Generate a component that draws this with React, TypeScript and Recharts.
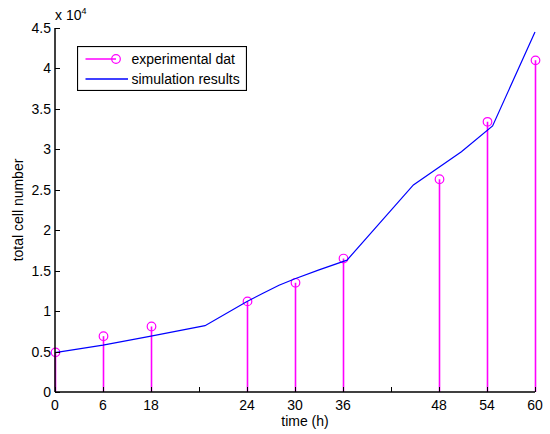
import React from 'react';
import { ComposedChart, Line, Bar, XAxis, YAxis, Legend } from 'recharts';

const FONT = '"Liberation Sans", Arial, Helvetica, sans-serif';
const FS = 14;
const MAGENTA = '#ff00ff';
const BLUE = '#0000ff';

// Measured cell counts (positions on the time axis)
const EXP_TIME = [0, 6, 12, 24, 30, 36, 48, 54, 60];
const EXP_CELLS = [4900, 6900, 8100, 11200, 13500, 16500, 26300, 33400, 41000];

// Simulated growth curve
const SIM_TIME = [0, 6, 12, 18.75, 24, 26, 28, 30, 33, 36.5, 44.8, 50.8, 54.7, 60];
const SIM_CELLS = [4860, 5800, 6900, 8200, 11200, 12200, 13200, 14000, 15100, 16300, 25600, 29700, 32900, 44500];

// Axis ticks and their printed labels
const X_TICKS = [0, 6, 12, 18, 24, 30, 36, 42, 48, 54, 60];
const X_TICK_LABELS = ['0', '6', '18', '', '24', '30', '36', '', '48', '54', '60'];
const Y_TICKS = [0, 5000, 10000, 15000, 20000, 25000, 30000, 35000, 40000, 45000];
const Y_TICK_LABELS = ['0', '0.5', '1', '1.5', '2', '2.5', '3', '3.5', '4', '4.5'];

const expData = EXP_TIME.map((t, i) => ({ t, cells: EXP_CELLS[i] }));
const simData = SIM_TIME.map((t, i) => ({ t, sim: SIM_CELLS[i] }));

const TICK_LEN = 5;
const crisp = (v: number) => Math.round(v) + 0.5;

const BottomTick = (props: any) => {
  const { x, y, payload } = props;
  const label = X_TICK_LABELS[X_TICKS.indexOf(payload.value)] ?? '';
  return (
    <g>
      <line x1={crisp(x)} y1={y} x2={crisp(x)} y2={y - TICK_LEN} stroke="#000" strokeWidth={1} />
      <text x={x} y={y + 18} textAnchor="middle" fontSize={FS} fontFamily={FONT} fill="#000">
        {label}
      </text>
    </g>
  );
};

const TopTick = (props: any) => {
  const { x, y } = props;
  return <line x1={crisp(x)} y1={y} x2={crisp(x)} y2={y + TICK_LEN} stroke="#000" strokeWidth={1} />;
};

const LeftTick = (props: any) => {
  const { x, y, payload } = props;
  const label = Y_TICK_LABELS[Y_TICKS.indexOf(payload.value)] ?? '';
  return (
    <g>
      <line x1={x} y1={crisp(y)} x2={x + TICK_LEN} y2={crisp(y)} stroke="#000" strokeWidth={1} />
      <text x={x - 4} y={y + 5} textAnchor="end" fontSize={FS} fontFamily={FONT} fill="#000">
        {label}
      </text>
    </g>
  );
};

const RightTick = (props: any) => {
  const { x, y } = props;
  return <line x1={x} y1={crisp(y)} x2={x - TICK_LEN} y2={crisp(y)} stroke="#000" strokeWidth={1} />;
};

// Stem marker: vertical line from the baseline up to the value, open circle on top
const Stem = (props: any) => {
  const { x, y, width, height } = props;
  const cx = crisp(x + width / 2 - 0.5);
  return (
    <g>
      <line x1={cx} y1={y} x2={cx} y2={y + height} stroke={MAGENTA} strokeWidth={1.6} />
      <circle cx={cx} cy={y} r={4.3} fill="none" stroke={MAGENTA} strokeWidth={1.2} />
    </g>
  );
};

const LegendBox = () => (
  <svg width={170} height={45} style={{ display: 'block' }}>
    <rect x={0.5} y={0.5} width={169} height={44} fill="#fff" stroke="#000" strokeWidth={1.2} />
    <line x1={8.5} y1={13} x2={39} y2={13} stroke={MAGENTA} strokeWidth={1.5} />
    <circle cx={39} cy={13} r={4.3} fill="none" stroke={MAGENTA} strokeWidth={1.2} />
    <text x={54.5} y={18} fontSize={FS} fontFamily={FONT} fill="#000">experimental dat</text>
    <line x1={8.5} y1={33} x2={51} y2={33} stroke={BLUE} strokeWidth={1.3} />
    <text x={54.5} y={38} fontSize={FS} fontFamily={FONT} fill="#000">simulation results</text>
  </svg>
);

const XLabel = (props: any) => {
  const vb = props.viewBox;
  return (
    <text x={vb.x + vb.width / 2 + 10} y={vb.y + 34} textAnchor="middle" fontSize={FS} fontFamily={FONT} fill="#000">
      time (h)
    </text>
  );
};

const YLabel = (props: any) => {
  const vb = props.viewBox;
  const cy = vb.y + vb.height / 2;
  return (
    <text transform={`translate(${vb.x + 23},${cy}) rotate(-90)`} textAnchor="middle" fontSize={FS} fontFamily={FONT} fill="#000">
      total cell number
    </text>
  );
};

export default function App() {
  return (
    <div style={{ position: 'absolute', left: 0, top: 0, width: 550, height: 434, background: '#fff' }}>
      <ComposedChart
        width={550}
        height={434}
        data={expData}
        margin={{ top: 28, right: 15, bottom: 0, left: 0 }}
      >
        <XAxis
          xAxisId="bottom"
          dataKey="t"
          type="number"
          domain={[0, 60]}
          ticks={X_TICKS}
          interval={0}
          height={42}
          tickSize={0}
          tickMargin={0}
          tickLine={false}
          tick={<BottomTick />}
          axisLine={{ stroke: '#000', strokeWidth: 1.5 }}
          label={<XLabel />}
        />
        <XAxis
          xAxisId="top"
          orientation="top"
          dataKey="t"
          type="number"
          domain={[0, 60]}
          ticks={X_TICKS}
          interval={0}
          height={0}
          tickSize={0}
          tickMargin={0}
          tickLine={false}
          tick={<TopTick />}
          axisLine={{ stroke: '#000', strokeWidth: 1.5 }}
        />
        <YAxis
          yAxisId="left"
          type="number"
          domain={[0, 45000]}
          ticks={Y_TICKS}
          interval={0}
          width={55}
          tickSize={0}
          tickMargin={0}
          tickLine={false}
          tick={<LeftTick />}
          axisLine={{ stroke: '#000', strokeWidth: 1.5 }}
          label={<YLabel />}
        />
        <YAxis
          yAxisId="right"
          orientation="right"
          type="number"
          domain={[0, 45000]}
          ticks={Y_TICKS}
          interval={0}
          width={0}
          tickSize={0}
          tickMargin={0}
          tickLine={false}
          tick={<RightTick />}
          axisLine={{ stroke: '#000', strokeWidth: 1.5 }}
        />
        <Bar
          xAxisId="top"
          yAxisId="right"
          dataKey="cells"
          barSize={1}
          fill={MAGENTA}
          shape={<Stem />}
          isAnimationActive={false}
          legendType="none"
        />
        <Line
          xAxisId="bottom"
          yAxisId="left"
          data={simData}
          dataKey="sim"
          type="linear"
          stroke={BLUE}
          strokeWidth={1.2}
          dot={false}
          activeDot={false}
          isAnimationActive={false}
        />
        <Legend
          layout="horizontal"
          verticalAlign="middle"
          align="center"
          wrapperStyle={{ left: 77, top: 46, width: 170, height: 45 }}
          content={() => <LegendBox />}
        />
      </ComposedChart>
      <div
        style={{
          position: 'absolute',
          left: 55,
          top: 7,
          fontFamily: FONT,
          fontSize: FS,
          color: '#000',
          lineHeight: '17px',
          whiteSpace: 'nowrap',
        }}
      >
        x 10<sup style={{ fontSize: 9, verticalAlign: 'top', position: 'relative', top: -4 }}>4</sup>
      </div>
    </div>
  );
}
